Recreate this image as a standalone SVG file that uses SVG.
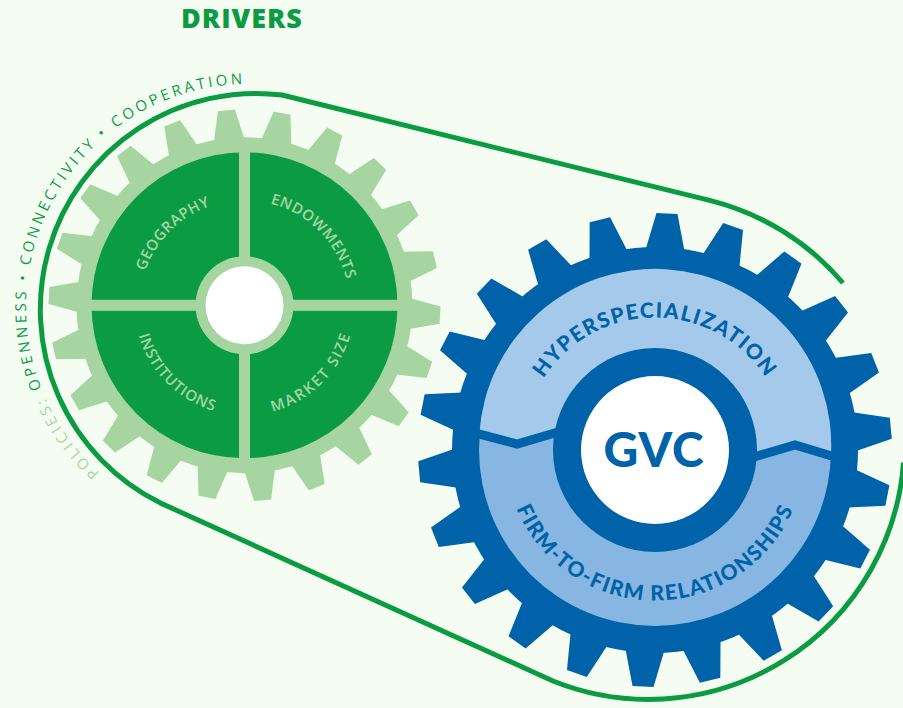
<svg xmlns="http://www.w3.org/2000/svg" xmlns:xlink="http://www.w3.org/1999/xlink" width="903" height="708" viewBox="0 0 903 708">
<style>
.bg{fill:#f5fdf2}
.lg{fill:#a7d5a2}
.dg{fill:#0b9c43}
.db{fill:#0062a8}
.lbu{fill:#a4c9ea}
.lbl{fill:#86b6e1}
.wh{fill:#ffffff}
.belt{fill:none;stroke:#0b9c43;stroke-width:5;stroke-linejoin:round}
.gl{font-family:"Open Sans","Noto Sans",sans-serif;font-weight:600;font-size:15px;fill:#a7d5a2}
.bl{font-family:Lato,"Open Sans",sans-serif;font-weight:900;font-size:21px;fill:#0062a8}
.pol{font-family:"Open Sans","Noto Sans",sans-serif;font-size:15px;fill:#0b9c43;letter-spacing:3.2px}
</style>
<defs>
<polygon id="gt" points="-16.6,-160 -8.55,-195.8 8.55,-195.8 16.6,-160"/>
<polygon id="bt" points="-20.7,-195 -10.5,-236.8 10.5,-236.8 20.7,-195"/>
<path id="policyArc" d="M 99.8,472.7 A 223 223 0 0 1 256.8,84.1"/>
<path id="arcGeo" d="M 139.5,305.3 A 105 105 0 0 1 244.5,200.3"/>
<path id="arcEnd" d="M 244.5,200.3 A 105 105 0 0 1 349.5,305.3"/>
<path id="arcIns" d="M 134.5,305.3 A 110 110 0 0 0 244.5,415.3"/>
<path id="arcMkt" d="M 244.5,415.3 A 110 110 0 0 0 354.5,305.3"/>
<path id="arcHyp" d="M 522.5,450 A 132.5 132.5 0 0 1 787.5,450"/>
<path id="arcFirm" d="M 504.5,450 A 150.5 150.5 0 0 0 805.5,450"/>
</defs>
<rect class="bg" x="0" y="0" width="903" height="708"/>

<g id="drivers-title">
<text x="242" y="28" text-anchor="middle" font-family="'Open Sans','Noto Sans',sans-serif" font-weight="800" font-size="27" letter-spacing="1" fill="#0b9c43">DRIVERS</text>
</g>

<g id="connectors">
<path id="belt" class="belt" d="M 903.5,462.6 A 256 256 0 0 1 553,681 L 160.6,503.1 A 216 216 0 0 1 282,95 L 709.6,200.4 A 256 256 0 0 1 843,283"/>
</g>

<g id="policies-label">
<text class="pol" style="fill:#a7d5a2"><textPath href="#policyArc" startOffset="0">POLICIES:</textPath></text>
<text class="pol"><textPath href="#policyArc" startOffset="103">OPENNESS • </textPath></text>
<text class="pol"><textPath href="#policyArc" startOffset="228">CONNECTIVITY • </textPath></text>
<text class="pol"><textPath href="#policyArc" startOffset="394">COOPERATION</textPath></text>
</g>

<g id="green-gear">
<g transform="translate(244.5,305.3)" class="lg">
<circle r="168"/>
<use href="#gt" transform="rotate(-5.3)"/>
<use href="#gt" transform="rotate(11.06)"/>
<use href="#gt" transform="rotate(27.43)"/>
<use href="#gt" transform="rotate(43.79)"/>
<use href="#gt" transform="rotate(60.15)"/>
<use href="#gt" transform="rotate(76.52)"/>
<use href="#gt" transform="rotate(92.88)"/>
<use href="#gt" transform="rotate(109.25)"/>
<use href="#gt" transform="rotate(125.61)"/>
<use href="#gt" transform="rotate(141.97)"/>
<use href="#gt" transform="rotate(158.34)"/>
<use href="#gt" transform="rotate(174.7)"/>
<use href="#gt" transform="rotate(191.06)"/>
<use href="#gt" transform="rotate(207.43)"/>
<use href="#gt" transform="rotate(223.79)"/>
<use href="#gt" transform="rotate(240.15)"/>
<use href="#gt" transform="rotate(256.52)"/>
<use href="#gt" transform="rotate(272.88)"/>
<use href="#gt" transform="rotate(289.25)"/>
<use href="#gt" transform="rotate(305.61)"/>
<use href="#gt" transform="rotate(321.97)"/>
<use href="#gt" transform="rotate(338.34)"/>
<circle class="dg" r="153"/>
<rect class="lg" x="-5.5" y="-154" width="11" height="308"/>
<rect class="lg" x="-154" y="-5.5" width="308" height="11"/>
<circle class="lg" r="49"/>
<circle class="wh" r="39"/>
</g>
<text class="gl" letter-spacing="0.5"><textPath href="#arcGeo" startOffset="50%" text-anchor="middle">GEOGRAPHY</textPath></text>
<text class="gl" letter-spacing="0.5"><textPath href="#arcEnd" startOffset="50%" text-anchor="middle">ENDOWMENTS</textPath></text>
<text class="gl" letter-spacing="0.8"><textPath href="#arcIns" startOffset="50%" text-anchor="middle">INSTITUTIONS</textPath></text>
<text class="gl" letter-spacing="2"><textPath href="#arcMkt" startOffset="50%" text-anchor="middle">MARKET SIZE</textPath></text>
</g>

<g id="blue-gear">
<g transform="translate(655,450)" class="db">
<circle r="203"/>
<use href="#bt" transform="rotate(2.9)"/>
<use href="#bt" transform="rotate(19.26)"/>
<use href="#bt" transform="rotate(35.63)"/>
<use href="#bt" transform="rotate(51.99)"/>
<use href="#bt" transform="rotate(68.35)"/>
<use href="#bt" transform="rotate(84.72)"/>
<use href="#bt" transform="rotate(101.08)"/>
<use href="#bt" transform="rotate(117.45)"/>
<use href="#bt" transform="rotate(133.81)"/>
<use href="#bt" transform="rotate(150.17)"/>
<use href="#bt" transform="rotate(166.54)"/>
<use href="#bt" transform="rotate(182.9)"/>
<use href="#bt" transform="rotate(199.26)"/>
<use href="#bt" transform="rotate(215.63)"/>
<use href="#bt" transform="rotate(231.99)"/>
<use href="#bt" transform="rotate(248.35)"/>
<use href="#bt" transform="rotate(264.72)"/>
<use href="#bt" transform="rotate(281.08)"/>
<use href="#bt" transform="rotate(297.45)"/>
<use href="#bt" transform="rotate(313.81)"/>
<use href="#bt" transform="rotate(330.17)"/>
<use href="#bt" transform="rotate(346.54)"/>
<circle class="lbl" r="176"/>
</g>
<path class="lbu" d="M 479.3,434 L 517,444 L 565,430 L 745,459.5 L 795,445 L 830.9,456 A 176 176 0 0 0 479.3,434 Z"/>
<path d="M 470,431.6 L 517,444 L 565,430 M 745,459.5 L 795,445 L 840,458.5" fill="none" stroke="#0062a8" stroke-width="9"/>
<circle class="db" cx="655" cy="450" r="102"/>
<circle class="wh" cx="655" cy="450" r="74"/>
<text class="bl" letter-spacing="1.5"><textPath href="#arcHyp" startOffset="50%" text-anchor="middle">HYPERSPECIALIZATION</textPath></text>
<text class="bl" letter-spacing="1.5"><textPath href="#arcFirm" startOffset="50%" text-anchor="middle">FIRM-TO-FIRM RELATIONSHIPS</textPath></text>
<text x="654" y="467" text-anchor="middle" font-family="Lato,'Open Sans',sans-serif" font-weight="900" font-size="48" letter-spacing="1" fill="#0062a8">GVC</text>
</g>
</svg>
